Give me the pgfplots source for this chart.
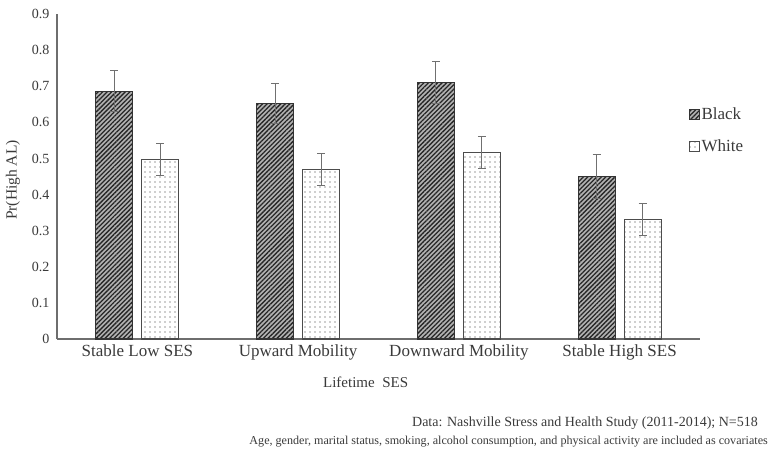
\documentclass[border=0pt]{standalone}
\usepackage{fontspec}
\setmainfont{Liberation Serif}
\usepackage{pgfplots}
\pgfplotsset{compat=1.18}
\usetikzlibrary{patterns.meta}
\definecolor{txt}{HTML}{3A3A3A}
\definecolor{axc}{HTML}{6E6E6E}
\definecolor{errc}{HTML}{707070}
\begin{document}
\begin{tikzpicture}[x=1pt,y=1pt]
\useasboundingbox (0pt,0pt) rectangle (772pt,-457pt);
\begin{axis}[
  at={(57pt,-339pt)}, anchor=south west,
  scale only axis, width=643pt, height=325pt,
  xmin=-0.5, xmax=3.5, ymin=0, ymax=0.9,
  axis x line=bottom, axis y line=left,
  axis line style={-, axc, line width=1.3pt},
  xtick={0,1,2,3},
  xticklabels={Stable Low SES, Upward Mobility, Downward Mobility, Stable High SES},
  ytick={0,0.1,0.2,0.3,0.4,0.5,0.6,0.7,0.8,0.9},
  major tick length=0pt,
  /pgf/number format/assume math mode=true,
  yticklabel style={/pgf/number format/fixed, /pgf/number format/precision=1,
     font=\fontsize{14}{14}\selectfont, text=txt, xshift=-4pt},
  xticklabel style={font=\fontsize{17}{17}\selectfont, text=txt, yshift=-2pt},
  ylabel={Pr(High AL)},
  ylabel style={at={(axis description cs:-0.0684,0.489)}, anchor=center, rotate=0,
     font=\fontsize{15.5}{15.5}\selectfont, text=txt},
  xlabel={Lifetime\ \ SES},
  xlabel style={at={(axis description cs:0.48,-0.132)}, anchor=center,
     font=\fontsize{15}{15}\selectfont, text=txt},
  ybar, bar width=37pt,
  legend style={at={(rel axis cs:0.982,0.7185)}, anchor=north west, draw=none, fill=none,
     font=\fontsize{17}{17}\selectfont, text=txt, row sep=15pt, inner sep=0pt},
  legend cell align=left,
  legend image code/.code={\draw[#1, line width=0.9pt] (0pt,-5pt) rectangle (10pt,5pt);},
  error bars/error bar style={errc, line width=1.1pt},
  error bars/error mark options={rotate=90, errc, mark size=4pt, line width=1.1pt},
]
\addplot[bar shift=-23pt, draw=black!80, line width=1.2pt, fill=gray!60,
   postaction={pattern color=black!85, pattern={Lines[angle=45,distance=3.2pt,line width=1.3pt]}},
   error bars/.cd, y dir=both, y explicit]
 table[x=x, y=y, y error=e] {
x y e
0 0.686 0.057
1 0.653 0.055
2 0.711 0.058
3 0.450 0.061
};
\addlegendentry{Black}
\addplot[bar shift=23pt, draw=black!70, line width=1.2pt, fill=white,
   postaction={pattern color=black!80, pattern={Dots[distance=5pt,radius=0.65pt]}},
   error bars/.cd, y dir=both, y explicit]
 table[x=x, y=y, y error=e] {
x y e
0 0.497 0.045
1 0.469 0.045
2 0.517 0.044
3 0.331 0.044
};
\addlegendentry{White}
\end{axis}
\node[anchor=east, inner sep=0pt, text=txt, font=\fontsize{14}{14}\selectfont] at (758pt,-423pt) {Data: Nashville Stress and Health Study (2011-2014); N=518};
\node[anchor=east, inner sep=0pt, text=txt, font=\fontsize{12.1}{12.1}\selectfont] at (768pt,-442pt) {Age, gender, marital status, smoking, alcohol consumption, and physical activity are included as covariates};
\end{tikzpicture}
\end{document}
